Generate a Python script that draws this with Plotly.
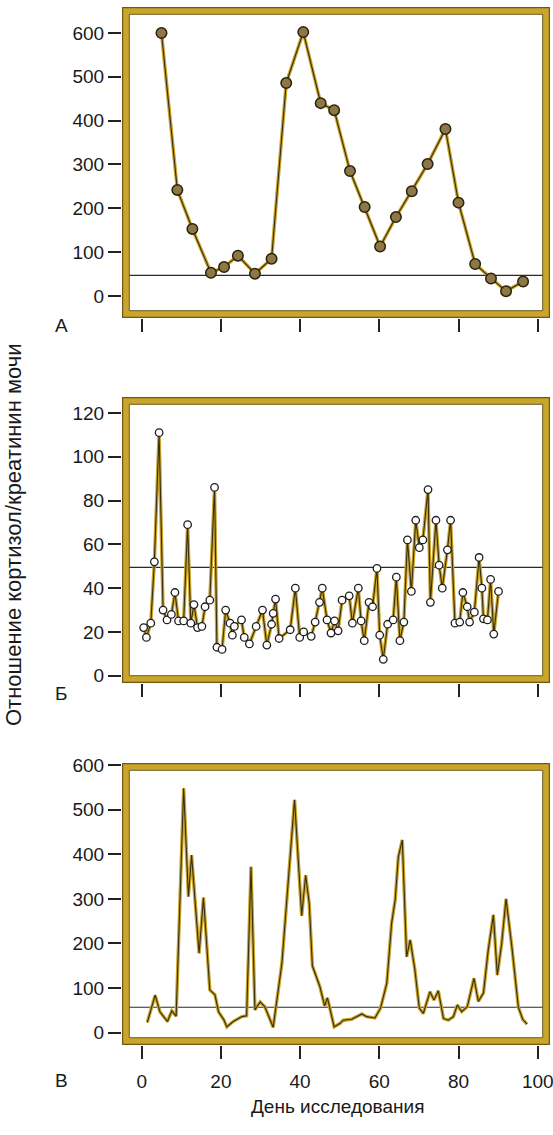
import plotly.graph_objects as go

# ---------------- data ----------------
a_day = [5.0, 9.0, 12.8, 17.5, 20.8, 24.3, 28.6, 32.8, 36.5, 40.8, 45.2, 48.6,
         52.6, 56.3, 60.2, 64.2, 68.2, 72.2, 76.7, 80.0, 84.2, 88.2, 92.0, 96.3]
a_val = [600, 242, 153, 53, 66, 92, 51, 85, 486, 602, 440, 424,
         285, 203, 113, 180, 239, 301, 381, 213, 73, 40, 11, 33]
a_ref = 47

b_day = [0.5, 1.2, 2.3, 3.2, 4.4, 5.4, 6.4, 7.5, 8.4, 9.3, 10.6, 11.6, 12.4, 13.2,
         14.1, 15.2, 16.0, 17.2, 18.4, 19.0, 20.3, 21.2, 22.3, 22.9, 23.4, 25.2,
         25.9, 27.2, 28.9, 30.5, 31.6, 32.8, 33.2, 33.8, 34.7, 37.5, 38.8, 39.9,
         40.9, 42.8, 43.8, 44.9, 45.6, 46.8, 47.8, 48.7, 49.6, 50.6, 52.4, 53.2,
         54.7, 55.4, 56.2, 57.4, 58.3, 59.4, 60.1, 61.0, 62.1, 63.5, 64.3, 65.2,
         66.2, 67.1, 68.1, 69.2, 70.1, 71.0, 72.3, 72.9, 74.3, 75.1, 75.9, 77.2,
         78.0, 79.1, 80.3, 81.1, 82.2, 82.8, 84.0, 85.2, 85.9, 86.3, 87.3, 88.1,
         88.9, 90.1]
b_val = [22, 17.5, 24, 52, 111, 30, 25.5, 28, 38, 25, 25, 69, 24, 32.5,
         22, 22.5, 31.5, 34.5, 86, 13, 12, 30, 24, 18.5, 22.5, 25.5,
         17.5, 14.5, 22.5, 30, 14, 23.5, 28.5, 35, 17, 21, 40, 17.5,
         20, 18, 24.5, 33.5, 40, 25.5, 19.5, 25, 20.5, 34.5, 36.5, 24,
         40, 25, 16, 33.5, 31.5, 49, 18.5, 7.5, 23.5, 25.5, 45, 16,
         24.5, 62, 38.5, 71, 58.5, 62, 85, 33.5, 71, 50.5, 40, 57.5,
         71, 24, 24.5, 38, 31.5, 24.5, 29, 54, 40, 26, 25.5, 44,
         19, 38.5]
b_ref = 49.5

c_day = [1.4, 3.4, 4.6, 6.5, 7.6, 8.7, 10.6, 11.8, 12.6, 14.5, 15.6, 17.2, 18.5,
         19.4, 20.8, 21.5, 23.1, 25.3, 26.5, 27.6, 28.6, 29.9, 31.1, 33.2, 35.4,
         37.0, 38.6, 40.4, 41.4, 42.3, 43.1, 45.0, 46.2, 46.9, 47.6, 48.6, 50.1,
         50.9, 53.0, 55.6, 56.8, 58.9, 60.3, 61.9, 63.1, 64.0, 64.8, 65.8, 66.9,
         67.8, 69.0, 70.1, 71.1, 72.8, 73.8, 74.9, 76.2, 77.4, 78.7, 79.7, 80.8,
         82.2, 83.9, 85.0, 86.3, 87.5, 88.8, 89.8, 90.9, 92.0, 93.5, 95.1, 96.2,
         97.3]
c_val = [23, 84, 47, 25, 49, 37, 548, 305, 398, 178, 303, 96, 85,
         47, 28, 13, 25, 36, 38, 372, 51, 69, 58, 12, 155,
         350, 522, 262, 353, 290, 150, 103, 60, 78, 50, 13, 21,
         28, 30, 42, 36, 33, 55, 111, 245, 297, 394, 432, 170,
         208, 140, 55, 43, 92, 73, 94, 32, 28, 36, 62, 47,
         58, 122, 70, 89, 185, 264, 129, 200, 300, 190, 58, 30,
         19]
c_ref = 57

x_ticks = [0, 20, 40, 60, 80, 100]
a_ticks = [0, 100, 200, 300, 400, 500, 600]
b_ticks = [0, 20, 40, 60, 80, 100, 120]
c_ticks = [0, 100, 200, 300, 400, 500, 600]

panel_letters = ["А", "Б", "В"]
y_title = "Отношение кортизол/креатинин мочи"
x_title = "День исследования"

# ---------------- layout geometry (pixels) ----------------
W, H = 553, 1135
XL, XR = 122, 550
panels = [(7, 318), (397, 683), (763, 1045)]
x_range = [-4.97, 103.1]
y_ranges = [[-50.2, 659.3], [-3.33, 127.3], [-27.6, 604.5]]

FONT = "Liberation Sans, Arial, sans-serif"
GOLD = "#C9A52C"
GOLD_DARK = "#6E5812"
LINE_DARK = "#3a2e0e"
TICK_C = "#222222"

fig = go.Figure()

def add_series(idx, xs, ys, mode, marker=None):
    xa = "x" if idx == 1 else f"x{idx}"
    ya = "y" if idx == 1 else f"y{idx}"
    fig.add_trace(go.Scatter(x=xs, y=ys, mode="lines", xaxis=xa, yaxis=ya,
                             line=dict(color=GOLD, width=3.4), hoverinfo="skip",
                             showlegend=False))
    fig.add_trace(go.Scatter(x=xs, y=ys, mode=mode, xaxis=xa, yaxis=ya,
                             line=dict(color=LINE_DARK, width=1.1),
                             marker=marker, showlegend=False))

add_series(1, a_day, a_val, "lines+markers",
           dict(size=10.5, color="#8D7845", line=dict(color="#2a220c", width=1.5)))
add_series(2, b_day, b_val, "lines+markers",
           dict(size=7.5, color="white", line=dict(color="#1e1e1e", width=1.3)))
add_series(3, c_day, c_val, "lines")

layout = dict(width=W, height=H, margin=dict(l=0, r=0, t=0, b=0, pad=0),
              paper_bgcolor="white", plot_bgcolor="white",
              font=dict(family=FONT, size=19, color="#1a1a1a"), showlegend=False)

yticks_all = [a_ticks, b_ticks, c_ticks]
shapes = []
refs = [a_ref, b_ref, c_ref]
for i, (top, bot) in enumerate(panels):
    n = i + 1
    sfx = "" if n == 1 else str(n)
    layout[f"xaxis{sfx}"] = dict(
        domain=[XL / W, XR / W], range=x_range, anchor=f"y{sfx}",
        tickvals=x_ticks, ticks="outside", ticklen=13, tickwidth=1.6,
        tickcolor=TICK_C, showticklabels=(n == 3), showgrid=False,
        zeroline=False, showline=False, ticklabelstandoff=6, automargin=False,
        ticklabeloverflow="allow", tickfont=dict(size=19))
    layout[f"yaxis{sfx}"] = dict(
        domain=[1 - bot / H, 1 - top / H], range=y_ranges[i], anchor=f"x{sfx}",
        tickvals=yticks_all[i], ticks="outside", ticklen=13, tickwidth=1.6,
        tickcolor=TICK_C, showgrid=False, zeroline=False, showline=False,
        automargin=False, ticklabeloverflow="allow", tickfont=dict(size=19))
    xd = f"x{sfx} domain"
    yd = f"y{sfx} domain"
    pw = XR - XL
    ph = bot - top
    shapes.append(dict(type="line", xref=xd, yref=f"y{sfx}", x0=0, x1=1,
                       y0=refs[i], y1=refs[i], line=dict(color="#2a2a2a", width=1.2),
                       layer="below"))

    def rect(inset, color, width, xd=xd, yd=yd, pw=pw, ph=ph):
        return dict(type="rect", xref=xd, yref=yd,
                    x0=inset / pw, x1=1 - inset / pw,
                    y0=inset / ph, y1=1 - inset / ph,
                    line=dict(color=color, width=width), layer="above")
    shapes.append(rect(3.8, GOLD, 6.6))
    shapes.append(rect(0.6, GOLD_DARK, 1.2))
    shapes.append(rect(7.3, GOLD_DARK, 1.0))

layout["shapes"] = shapes

letter_y = [325, 693, 1080]
annotations = []
for lt, ly in zip(panel_letters, letter_y):
    annotations.append(dict(text=lt, x=61 / W, y=1 - ly / H, xref="paper",
                            yref="paper", showarrow=False, xanchor="center",
                            yanchor="middle", font=dict(size=19)))
annotations.append(dict(text=y_title, x=13 / W, y=1 - 535 / H, xref="paper",
                        yref="paper", showarrow=False, textangle=-90,
                        xanchor="center", yanchor="middle", font=dict(size=22)))
annotations.append(dict(text=x_title, x=337 / W, y=1 - 1106 / H, xref="paper",
                        yref="paper", showarrow=False, xanchor="center",
                        yanchor="middle", font=dict(size=19)))
layout["annotations"] = annotations

fig.update_layout(**layout)
fig.write_html("out.html")
